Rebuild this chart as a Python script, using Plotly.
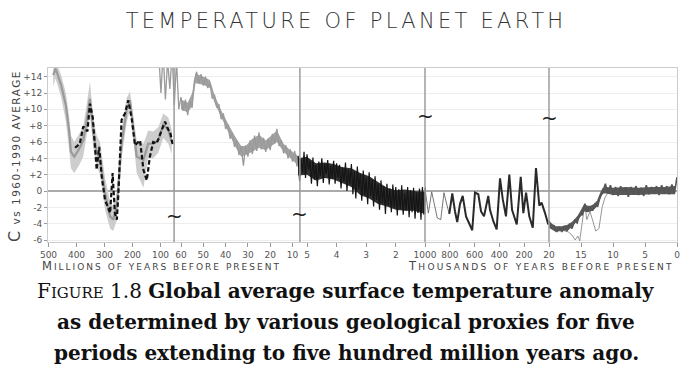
import plotly.graph_objects as go

# ---------------- data ----------------
# Period 1: million years before present
p1_t   = [483, 475, 455, 438, 426, 420, 408, 390, 376, 366, 352, 340, 328, 316, 298, 280, 269, 256, 239, 221, 209, 197, 185, 161, 144, 126, 108, 90, 72, 60]
p1_mid = [14.2, 15.0, 13.0, 10.5, 7.3, 4.8, 4.2, 5.2, 6.2, 8.1, 11.3, 7.3, 4.8, 4.0, -0.3, -3.1, -3.5, -1.9, 5.8, 9.9, 11.1, 7.9, 4.2, 3.8, 5.8, 5.8, 6.2, 8.1, 7.5, 6.0]
p1_lo  = [12.8, 13.8, 11.5, 8.5, 5.0, 2.8, 2.2, 3.2, 4.2, 6.2, 9.3, 5.3, 3.0, 2.0, -2.3, -4.6, -4.9, -3.6, 4.0, 8.3, 10.0, 6.4, 2.2, 0.4, 4.0, 4.0, 4.7, 6.5, 5.8, 4.5]
p1_hi  = [15.5, 16.0, 14.2, 12.0, 9.0, 6.8, 6.0, 7.0, 8.0, 10.0, 13.4, 9.0, 6.8, 6.0, 1.6, -1.3, -1.9, -0.2, 7.4, 11.4, 12.2, 9.4, 6.2, 5.8, 7.4, 7.3, 7.8, 9.5, 9.0, 7.5]
p1d_t  = [405, 388, 376, 361, 352, 342, 334, 328, 319, 310, 298, 280, 271, 263, 256, 251, 239, 227, 215, 203, 191, 173, 161, 149, 138, 126, 114, 96, 84, 72, 66, 56]
p1d_v  = [5.3, 5.8, 7.9, 7.3, 10.7, 9.0, 5.4, 2.6, 5.4, 1.8, -1.1, -2.7, 2.2, -2.7, -3.5, -0.7, 8.7, 9.5, 11.1, 8.9, 5.6, 6.2, 2.6, 1.3, 4.2, 6.0, 5.8, 7.3, 8.5, 7.5, 7.3, 5.6]

# Period 2: million years before present
p2_t = [70, 69, 68, 67, 66, 65, 64, 63, 62, 61, 60, 59, 58, 57, 56, 55, 54, 53, 52, 51, 50, 49, 48, 47, 46, 45, 44, 43, 42, 41,
        40, 39, 38, 37, 36, 35, 34, 33, 32, 31, 30, 29, 28, 27, 26, 25, 24, 23, 22, 21, 20, 19, 18, 17, 16, 15, 14, 13, 12, 11,
        10, 9, 8, 7]
p2_v = [17.0, 12.0, 17.0, 11.2, 16.0, 12.5, 17.0, 10.5, 16.0, 10.0, 11.5, 9.8, 11.2, 9.3, 11.0, 10.2, 13.5, 14.6, 13.2, 14.3,
        12.9, 14.0, 12.6, 13.2, 11.3, 11.8, 10.2, 10.6, 8.8, 9.5, 7.6, 8.2, 6.4, 7.1, 5.4, 6.2, 4.4, 5.5, 3.1, 5.6,
        4.2, 6.2, 4.5, 6.8, 4.9, 7.2, 5.1, 6.5, 4.8, 6.4, 5.0, 7.0, 5.8, 7.6, 5.5, 6.2, 4.6, 5.6, 4.0, 5.1,
        3.6, 4.9, 3.0, 4.3]
p2e_t  = [60, 57, 55, 53.5, 50, 47, 45, 42, 39, 36, 33, 31, 28, 25, 22, 19, 17, 14, 11, 8, 7]
p2e_lo = [10.0, 9.6, 10.4, 13.2, 13.0, 12.6, 10.8, 9.0, 7.3, 5.6, 4.2, 4.4, 4.8, 5.3, 5.0, 5.6, 6.0, 4.8, 4.0, 3.3, 3.0]
p2e_hi = [11.2, 10.8, 12.0, 14.4, 14.0, 13.6, 11.8, 9.9, 8.3, 6.8, 5.5, 5.5, 6.4, 6.9, 6.2, 6.9, 7.4, 5.8, 5.0, 4.4, 4.0]

# Period 3: million years before present
p3_t = [5.30, 5.25, 5.20, 5.15, 5.10, 5.05, 5.00, 4.95, 4.90, 4.85, 4.80, 4.75, 4.70, 4.65, 4.60, 4.55, 4.50, 4.45,
        4.40, 4.35, 4.30, 4.25, 4.20, 4.15, 4.10, 4.05, 4.00, 3.95, 3.90, 3.85, 3.80, 3.75, 3.70, 3.65, 3.60, 3.55,
        3.50, 3.45, 3.40, 3.35, 3.30, 3.25, 3.20, 3.15, 3.10, 3.05, 3.00, 2.95, 2.90, 2.85, 2.80, 2.75, 2.70, 2.65,
        2.60, 2.55, 2.50, 2.45, 2.40, 2.35, 2.30, 2.25, 2.20, 2.15, 2.10, 2.05, 2.00, 1.95, 1.90, 1.85, 1.80, 1.75,
        1.70, 1.65, 1.60, 1.55, 1.50, 1.45, 1.40, 1.35, 1.30, 1.25, 1.20, 1.15, 1.10, 1.05, 1.00]
p3_v = [4.3, 1.2, 3.9, 2.2, 4.8, 1.6, 4.5, 2.6, 3.7, 0.9, 4.1, 1.4, 3.2, 0.6, 3.6, 1.8, 4.0, 1.0,
        3.3, 2.1, 3.8, 0.8, 3.1, 1.5, 3.7, 0.9, 3.4, 1.6, 3.2, 0.3, 2.9, 1.1, 3.5, 0.0, 2.6, 0.8,
        3.3, -0.4, 2.4, -0.9, 3.0, 0.2, 2.1, -1.2, 2.5, -0.5, 1.6, -1.6, 2.3, -0.6, 1.4, -1.9, 1.8, -1.1,
        0.9, -2.3, 1.3, -1.5, 0.6, -2.8, 0.9, -1.8, 0.3, -2.6, 0.8, -2.0, 0.5, -3.0, 0.2, -2.2, 0.7, -2.9,
        -0.3, -2.4, 0.5, -3.2, 0.1, -2.6, 0.4, -3.4, -0.2, -2.7, 0.3, -3.5, 0.5, -2.9, 0.4]
p3e_t  = [5.3, 5.0, 4.7, 4.4, 4.1, 3.8, 3.5, 3.2, 2.9, 2.6, 2.3, 2.0, 1.7, 1.4, 1.0]
p3e_lo = [1.9, 2.0, 1.3, 1.6, 1.4, 0.9, 0.5, -0.5, -0.9, -1.6, -1.9, -2.3, -2.4, -2.4, -2.8]
p3e_hi = [4.0, 4.2, 3.4, 3.5, 3.3, 2.9, 2.8, 2.2, 1.8, 1.1, 0.4, 0.1, 0.2, 0.0, -0.1]

# Period 4: thousand years before present
p4_t = [1000, 973, 946, 919, 901, 873, 847, 825, 804, 780, 758, 740, 718, 696, 669, 643, 619, 597, 570, 548, 524, 490, 476,
        449, 422, 395, 373, 347, 320, 298, 260, 228, 207, 185, 159, 131, 105, 78, 60, 32, 6]
p4_v = [0.3, -2.7, -0.1, -2.3, -3.3, -3.5, -0.2, -1.6, -2.8, -0.3, -2.5, -3.8, -1.6, -0.6, -3.1, -4.1, -4.8, -0.2, -0.4, -2.5, -3.1, -0.6, -2.3,
        -3.7, -4.7, 1.55, -1.0, -3.1, 2.0, -2.3, -4.1, 1.75, -2.7, -0.2, -3.1, -4.5, 2.8, -1.8, -1.4, -2.7, -4.1]

# Period 5: thousand years before present
p5_t = [20.0, 19.6, 19.2, 18.8, 18.4, 18.0, 17.6, 17.2, 16.8, 16.4, 16.0, 15.6, 15.2, 14.8, 14.4, 14.0, 13.6, 13.2, 12.8,
        12.4, 12.0, 11.6, 11.2, 10.8, 10.4, 10.0, 9.6, 9.2, 8.8, 8.4, 8.0, 7.6, 7.2, 6.8, 6.4, 6.0, 5.6, 5.2, 4.8, 4.4,
        4.0, 3.6, 3.2, 2.8, 2.4, 2.0, 1.6, 1.2, 0.8, 0.4, 0.0]
p5_v = [-3.6, -4.6, -4.2, -5.0, -4.4, -5.0, -4.3, -4.9, -4.0, -4.6, -3.6, -3.9, -2.8, -2.9, -1.6, -2.5, -1.9, -2.4, -1.6,
        -1.9, -0.6, -0.2, 0.9, -0.3, 0.7, -0.5, 0.5, -0.6, 0.6, -0.4, 0.4, -0.7, 0.5, -0.3, 0.6, -0.5, 0.4, -0.6, 0.7, -0.4,
        0.5, -0.3, 0.6, -0.5, 0.7, -0.2, 0.6, -0.4, 0.8, -0.3, 1.7]
p5e_t  = [20, 19, 18, 17, 16.3, 15.5, 15, 14.5, 14, 13.5, 13, 12.5, 12, 11.6, 11, 10, 8, 6, 4, 2, 0.3]
p5e_lo = [-4.5, -5.0, -4.9, -4.8, -4.3, -3.6, -3.1, -2.5, -2.6, -2.5, -2.3, -1.9, -1.0, -0.3, -0.3, -0.5, -0.5, -0.5, -0.4, -0.4, -0.4]
p5e_hi = [-3.7, -4.3, -4.3, -4.1, -3.7, -3.0, -2.3, -1.6, -1.8, -1.8, -1.6, -1.2, -0.2, 0.4, 0.5, 0.4, 0.5, 0.4, 0.5, 0.5, 0.6]
p5b_t = [18.9, 18.0, 17.0, 16.4, 15.9, 15.5, 15.2, 14.7, 14.4, 14.1, 13.6, 13.1, 12.7, 12.2, 11.7, 11.25, 10.8, 10.5]
p5b_v = [-4.4, -4.8, -5.0, -5.4, -6.0, -5.5, -6.1, -3.2, -1.5, -3.5, -2.5, -3.8, -4.9, -4.6, -2.0, -0.8, -0.2, 0.2]

# tick labels of each period
p1_ticks = [500, 400, 300, 200, 100]
p2_ticks = [60, 50, 40, 30, 20, 10]
p3_ticks = [5, 4, 3, 2]
p4_ticks = [1000, 800, 600, 400, 200]
p5_ticks = [20, 15, 10, 5, 0]
y_ticks = [-6, -4, -2, 0, 2, 4, 6, 8, 10, 12, 14]
y_ticktext = ["-6", "-4", "-2", "0", "+2", "+4", "+6", "+8", "+10", "+12", "+14"]

# ---------------- composite (broken) time axis ----------------
def x1(t): return 160.5 + (100 - t) * 0.28
def x2(t): return 181 + (60 - t) * 2.23
def x3(t): return 307 + (5 - t) * 29.6
def x4(t): return 425 + (1000 - t) * 0.124
def x5(t): return 549 + (20 - t) * 6.4

def m(f, ts): return [f(t) for t in ts]

fig = go.Figure()

def band(f, ts, lo, hi, color):
    fig.add_trace(go.Scatter(x=m(f, ts), y=lo, mode="lines", line=dict(width=0), hoverinfo="skip"))
    fig.add_trace(go.Scatter(x=m(f, ts), y=hi, mode="lines", line=dict(width=0), fill="tonexty",
                             fillcolor=color, hoverinfo="skip"))

# period 1: band, centre line, dashed series
band(x1, p1_t, p1_lo, p1_hi, "#cdcdcd")
fig.add_trace(go.Scatter(x=m(x1, p1_t), y=p1_mid, mode="lines", line=dict(color="#9a9a9a", width=2.2)))
fig.add_trace(go.Scatter(x=m(x1, p1d_t), y=p1d_v, mode="lines",
                         line=dict(color="#111111", width=2.2, dash="4.5px,2.5px")))
# period 2
band(x2, p2e_t, p2e_lo, p2e_hi, "#a3a3a3")
fig.add_trace(go.Scatter(x=m(x2, p2_t), y=p2_v, mode="lines", line=dict(color="#9a9a9a", width=1.3)))
# period 3
band(x3, p3e_t, p3e_lo, p3e_hi, "#303030")
fig.add_trace(go.Scatter(x=m(x3, p3_t), y=p3_v, mode="lines", line=dict(color="#151515", width=1.2)))
# period 4 (thin early part, dark later part)
fig.add_trace(go.Scatter(x=m(x4, p4_t[:9]), y=p4_v[:9], mode="lines", line=dict(color="#666666", width=0.9)))
fig.add_trace(go.Scatter(x=m(x4, p4_t[8:]), y=p4_v[8:], mode="lines", line=dict(color="#2a2a2a", width=2.0)))
# period 5
fig.add_trace(go.Scatter(x=m(x5, p5b_t), y=p5b_v, mode="lines", line=dict(color="#8a8a8a", width=0.9)))
band(x5, p5e_t, p5e_lo, p5e_hi, "#5a5a5a")
fig.add_trace(go.Scatter(x=m(x5, p5_t), y=p5_v, mode="lines", line=dict(color="#555555", width=1.6)))

# separators between periods
seps = [x2(63.1), x3(5.24), x4(1000), x5(20)]
shapes = [dict(type="line", xref="x", yref="paper", x0=s, x1=s, y0=0, y1=1,
               line=dict(color="#9c9c9c", width=1.5)) for s in seps]

tickvals = m(x1, p1_ticks) + m(x2, p2_ticks) + m(x3, p3_ticks) + m(x4, p4_ticks) + m(x5, p5_ticks)
ticktext = [str(v) for v in p1_ticks + p2_ticks + p3_ticks + p4_ticks + p5_ticks]

tick_font = dict(family="DejaVu Sans", size=9, color="#555555")

annotations = []
# break marks
for sx, sy in [(seps[0], -3.1), (seps[1], -2.8), (seps[2], 9.2), (seps[3], 9.0)]:
    annotations.append(dict(x=sx, y=sy, xref="x", yref="y", text="~", showarrow=False,
                            xanchor="center", yanchor="middle",
                            font=dict(family="DejaVu Sans", size=20, color="#222222")))
# y axis title
annotations.append(dict(x=-0.054, y=0.494, xref="paper", yref="paper", textangle=-90, showarrow=False,
                        xanchor="center", yanchor="middle",
                        text="<span style='letter-spacing:1.5px'><span style='font-size:16px'>C</span> vs 1960-1990 AVERAGE</span>",
                        font=dict(family="DejaVu Sans", size=10.5, color="#444444")))
# x axis titles
annotations.append(dict(x=0.18, y=-0.138, xref="paper", yref="paper", showarrow=False,
                        xanchor="center", yanchor="middle",
                        text="<span style='letter-spacing:2px'>M<span style='font-size:9px'>ILLIONS OF YEARS BEFORE PRESENT</span></span>",
                        font=dict(family="DejaVu Sans", size=11.5, color="#444444")))
annotations.append(dict(x=0.784, y=-0.138, xref="paper", yref="paper", showarrow=False,
                        xanchor="center", yanchor="middle",
                        text="<span style='letter-spacing:2.3px'>T<span style='font-size:9px'>HOUSANDS OF YEARS BEFORE PRESENT</span></span>",
                        font=dict(family="DejaVu Sans", size=11.5, color="#444444")))
# caption
cap_font = dict(family="DejaVu Serif", size=20, color="#111111")
caption = [
    "F<span style='font-size:15px'>IGURE</span> 1.8 <b>Global average surface temperature anomaly</b>",
    "<b>as determined by various geological proxies for five</b>",
    "<b>periods extending to five hundred million years ago.</b>",
]
for i, line in enumerate(caption):
    annotations.append(dict(x=0.474, y=[-0.282, -0.460, -0.638][i], xref="paper", yref="paper",
                            xanchor="center", yanchor="middle",
                            showarrow=False, text=line, font=cap_font))

fig.update_layout(
    width=692, height=390,
    margin=dict(l=48, r=15, t=68, b=148, autoexpand=False),
    paper_bgcolor="white", plot_bgcolor="white",
    showlegend=False,
    title=dict(text="<span style='letter-spacing:3.3px'>TEMPERATURE OF PLANET EARTH</span>",
               x=0.5, xanchor="center", y=0.946, yanchor="middle",
               xref="container", yref="container",
               font=dict(family="DejaVu Sans", size=21, color="#333333", weight=200)),
    xaxis=dict(range=[48, 677], tickvals=tickvals, ticktext=ticktext, tickfont=tick_font, automargin=False,
               ticks="outside", ticklen=4, tickcolor="#999999", showgrid=False, zeroline=False,
               showline=True, mirror=True, linecolor="#cccccc", linewidth=1, fixedrange=True),
    yaxis=dict(range=[-6.24, 15.06], tickvals=y_ticks, ticktext=y_ticktext, tickfont=tick_font, automargin=False,
               ticks="outside", ticklen=3, tickcolor="#999999", showgrid=True, gridcolor="#eeeeee",
               zeroline=True, zerolinecolor="#aaaaaa", zerolinewidth=2,
               showline=True, mirror=True, linecolor="#cccccc", linewidth=1, fixedrange=True),
    shapes=shapes,
    annotations=annotations,
)

fig.write_html("out.html", config={"displayModeBar": False},
               post_script="document.body.style.margin='0px';")
